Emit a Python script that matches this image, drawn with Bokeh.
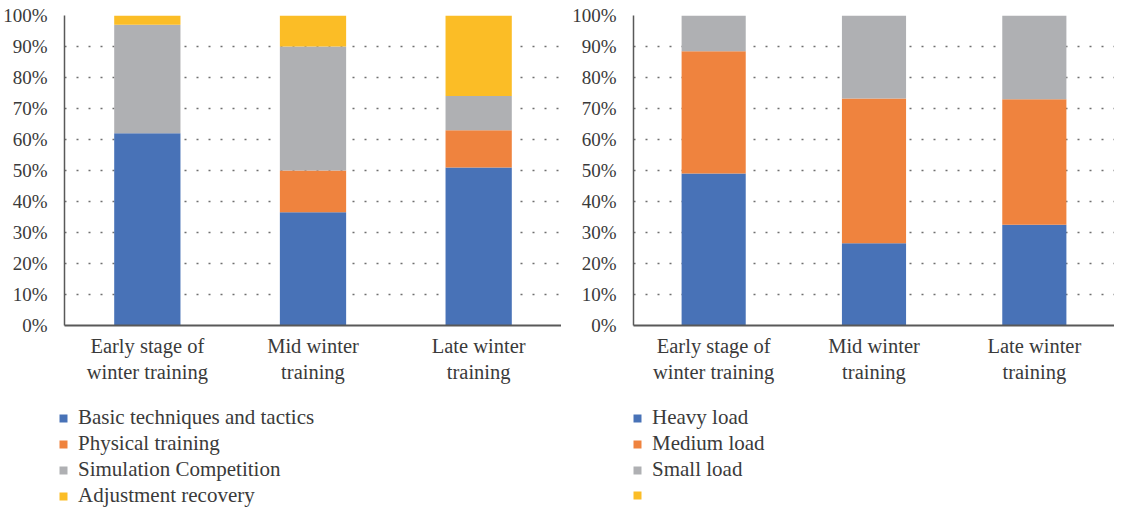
from bokeh.plotting import figure
from bokeh.models import (FactorRange, Range1d, NumeralTickFormatter, FixedTicker,
                          Legend, LegendItem)
from bokeh.layouts import row, column
from bokeh.embed import file_html
from bokeh.resources import INLINE

# ---- data ----
stages = ["Early stage of\nwinter training", "Mid winter\ntraining", "Late winter\ntraining"]

content_labels = ["Basic techniques and tactics", "Physical training",
                  "Simulation Competition", "Adjustment recovery"]
basic = [0.62, 0.365, 0.51]
physical = [0.0, 0.135, 0.12]
simulation = [0.35, 0.40, 0.11]
adjustment = [0.03, 0.10, 0.26]

load_labels = ["Heavy load", "Medium load", "Small load", ""]
heavy = [0.49, 0.265, 0.325]
medium = [0.395, 0.467, 0.405]
small = [0.115, 0.268, 0.27]
empty = [0.0, 0.0, 0.0]

y_ticks = [0.0, 0.1, 0.2, 0.3, 0.4, 0.5, 0.6, 0.7, 0.8, 0.9, 1.0]

colors = ["#4872B7", "#EF833E", "#AFB0B3", "#FBBD26"]
FONT = "Liberation Serif"
TXT = "#3a3a3a"
TOP = 15
FRAME_H = 310
MAIN_H = 393
LEG_H = 118


def source_for(series):
    data = {"stage": stages}
    keys = []
    for i, s in enumerate(series):
        k = "s%d" % i
        data[k] = s
        keys.append(k)
    return data, keys


def make_chart(series, width, left_border, right_border):
    data, keys = source_for(series)
    p = figure(x_range=FactorRange(*stages, range_padding=0), y_range=Range1d(0, 1),
               width=width, height=MAIN_H,
               output_backend="svg", toolbar_location=None,
               min_border_left=left_border, min_border_right=right_border,
               min_border_top=TOP, min_border_bottom=MAIN_H - TOP - FRAME_H)
    p.vbar_stack(keys, x="stage", width=0.4, color=colors[:len(keys)], source=data,
                 line_color=None)
    p.outline_line_color = None
    p.background_fill_color = "white"
    p.border_fill_color = "white"
    p.xgrid.grid_line_color = None
    p.ygrid.grid_line_color = "#6f6f6f"
    p.ygrid.grid_line_dash = "2 10"
    p.ygrid.grid_line_width = 1.5

    p.yaxis.ticker = FixedTicker(ticks=y_ticks)
    p.yaxis.formatter = NumeralTickFormatter(format="0%")
    for ax in (p.xaxis[0], p.yaxis[0]):
        ax.major_tick_line_color = None
        ax.minor_tick_line_color = None
        ax.major_label_text_font = FONT
        ax.major_label_text_color = TXT
        ax.axis_line_color = "#595959"
    p.yaxis.major_label_text_font_size = "19px"
    p.xaxis.major_label_text_font_size = "20.5px"
    p.yaxis.axis_line_width = 1.5
    p.xaxis.axis_line_width = 2
    p.yaxis.major_label_standoff = 11
    p.xaxis.major_label_standoff = 3
    return p


def make_legend(series, labels, width, left_border):
    data, keys = source_for(series)
    lf = figure(x_range=FactorRange(*stages), y_range=Range1d(0, 1),
                width=width, height=LEG_H, output_backend="svg",
                toolbar_location=None, min_border_left=left_border,
                min_border_right=0, min_border_top=0, min_border_bottom=0)
    rs = lf.vbar_stack(keys, x="stage", width=0.4, color=colors[:len(keys)],
                       source=data, line_color=None)
    for r in rs:
        r.visible = False
    lf.axis.visible = False
    lf.grid.visible = False
    lf.outline_line_color = None
    items = [LegendItem(label=lab, renderers=[r]) for lab, r in zip(labels, rs)]
    leg = Legend(items=items, location="top_left", orientation="vertical",
                 glyph_width=10, glyph_height=10, label_standoff=10,
                 label_text_font=FONT, label_text_font_size="21px",
                 label_text_color=TXT, label_height=24, spacing=1,
                 padding=0, margin=12, border_line_color=None,
                 background_fill_alpha=0, click_policy="none")
    lf.add_layout(leg)
    return lf


p1 = make_chart([basic, physical, simulation, adjustment], 561, 58, 0)
p2 = make_chart([heavy, medium, small], 553, 72, 0)
l1 = make_legend([basic, physical, simulation, adjustment], content_labels, 561, 46)
l2 = make_legend([heavy, medium, small, empty], load_labels, 553, 59)

layout = column(row(p1, p2), row(l1, l2))
open("out.html", "w").write(file_html(layout, INLINE))
